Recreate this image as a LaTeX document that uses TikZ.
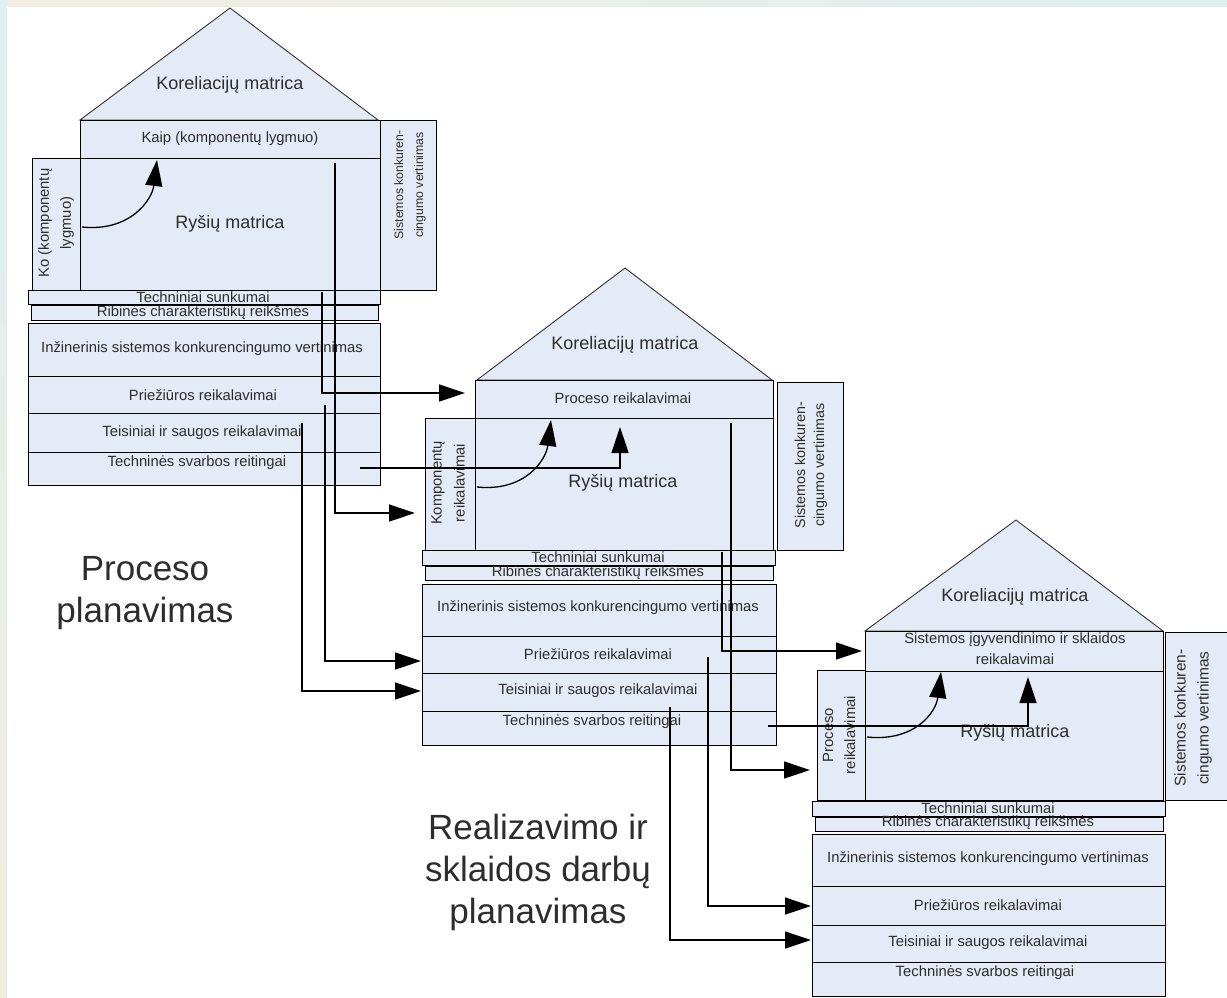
\documentclass[tikz,border=0pt]{standalone}
\usepackage{fontspec}
\setmainfont{Liberation Sans}
\usetikzlibrary{arrows.meta,calc}
\definecolor{boxfill}{RGB}{228,234,246}
\definecolor{bandtop}{RGB}{222,240,242}
\definecolor{bandleft}{RGB}{242,236,224}
\definecolor{labelgray}{RGB}{45,45,45}
\begin{document}
\begin{tikzpicture}[x=1pt,y=-1pt,
  box/.style={draw=black, fill=boxfill, line width=1.2pt, inner sep=0pt, anchor=north west},
  roof/.style={draw=black!80, fill=boxfill, line width=0.9pt, line join=miter},
  rowtxt/.style={font=\fontsize{14.8}{21}\selectfont, inner sep=0pt, text=labelgray},
  titletxt/.style={font=\fontsize{18}{22}\selectfont, inner sep=0pt, text=labelgray},
  sidetxt/.style={rotate=90, align=center, inner sep=0pt, text=labelgray},
  bigtxt/.style={font=\fontsize{35}{42}\selectfont, align=center, inner sep=0pt, text=labelgray},
  conn/.style={line width=1.3pt, -{Triangle[length=26pt,width=17pt]}},
  curvearrow/.style={line width=1.3pt, -{Triangle[length=26pt,width=17pt]}}
]
\useasboundingbox (0,0) rectangle (1227,998);
% faint slide background bands
\fill[left color=bandleft, right color=bandtop] (0,0) rectangle (1227,7);
\fill[top color=bandtop, bottom color=bandleft] (0,0) rectangle (7,998);

% ---------------- house 1 ----------------
\filldraw[roof] (80,120) -- (230,8) -- (378,120) -- cycle;
\node[titletxt] (h1corr) at (230,85) {Koreliacijų matrica};
\node[box, minimum width=56, minimum height=170] (h1side) at (380,120) {};
\node[sidetxt, font=\fontsize{12.3}{20}\selectfont] (h1sidet) at (410,185) {Sistemos konkuren-\\cingumo vertinimas};
\node[box, minimum width=48, minimum height=132] (h1left) at (32,158) {};
\node[sidetxt, font=\fontsize{14.8}{22}\selectfont] (h1leftt) at (56,223) {Ko (komponentų\\lygmuo)};
\node[box, minimum width=300, minimum height=38] (h1top) at (80,120) {};
\node[rowtxt] (h1topt) at (230,139) {Kaip (komponentų lygmuo)};
\node[box, minimum width=300, minimum height=132] (h1main) at (80,158) {};
\node[titletxt] (h1maint) at (230,224) {Ryšių matrica};
\node[box, minimum width=352, minimum height=14] (h1tech) at (28,290) {};
\node[rowtxt] (h1techt) at (203,297) {Techniniai sunkumai};
\node[box, minimum width=347, minimum height=15] (h1rib) at (31,305) {};
\node[rowtxt] (h1ribt) at (203,313) {Ribinės charakteristikų reikšmės};
\node[box, minimum width=352, minimum height=53] (h1eng) at (28,323) {};
\node[rowtxt] (h1engt) at (202,349) {Inžinerinis sistemos konkurencingumo vertinimas};
\node[box, minimum width=352, minimum height=37] (h1maint2) at (28,376) {};
\node[rowtxt] (h1mt) at (203,395) {Priežiūros reikalavimai};
\node[box, minimum width=352, minimum height=39] (h1legal) at (28,413) {};
\node[rowtxt] (h1legalt) at (202,433) {Teisiniai ir saugos reikalavimai};
\node[box, minimum width=352, minimum height=33] (h1rank) at (28,452) {};
\node[rowtxt] (h1rankt) at (197,463) {Techninės svarbos reitingai};

% ---------------- house 2 ----------------
\filldraw[roof] (477,380) -- (625,268) -- (772,380) -- cycle;
\node[titletxt] (h2corr) at (625,345) {Koreliacijų matrica};
\node[box, minimum width=66, minimum height=168] (h2side) at (777,382) {};
\node[sidetxt, font=\fontsize{14.3}{19}\selectfont] (h2sidet) at (811,465) {Sistemos konkuren-\\cingumo vertinimas};
\node[box, minimum width=50, minimum height=132] (h2left) at (425,418) {};
\node[sidetxt, font=\fontsize{14.8}{23}\selectfont] (h2leftt) at (448,483) {Komponentų\\reikalavimai};
\node[box, minimum width=298, minimum height=38] (h2top) at (475,380) {};
\node[rowtxt] (h2topt) at (623,398) {Proceso reikalavimai};
\node[box, minimum width=298, minimum height=132] (h2main) at (475,418) {};
\node[titletxt] (h2maint) at (623,483) {Ryšių matrica};
\node[box, minimum width=353, minimum height=15] (h2tech) at (422,550) {};
\node[rowtxt] (h2techt) at (598,557) {Techniniai sunkumai};
\node[box, minimum width=348, minimum height=14] (h2rib) at (425,566) {};
\node[rowtxt] (h2ribt) at (598,573) {Ribinės charakteristikų reikšmės};
\node[box, minimum width=354, minimum height=52] (h2eng) at (422,584) {};
\node[rowtxt] (h2engt) at (598,608) {Inžinerinis sistemos konkurencingumo vertinimas};
\node[box, minimum width=354, minimum height=37] (h2maint2) at (422,636) {};
\node[rowtxt] (h2mt) at (598,654) {Priežiūros reikalavimai};
\node[box, minimum width=354, minimum height=38] (h2legal) at (422,673) {};
\node[rowtxt] (h2legalt) at (598,691) {Teisiniai ir saugos reikalavimai};
\node[box, minimum width=354, minimum height=34] (h2rank) at (422,711) {};
\node[rowtxt] (h2rankt) at (592,722) {Techninės svarbos reitingai};

% ---------------- house 3 ----------------
\filldraw[roof] (865,631) -- (1016,520) -- (1163,631) -- cycle;
\node[titletxt] (h3corr) at (1015,597) {Koreliacijų matrica};
\node[box, minimum width=70, minimum height=168] (h3side) at (1165,632) {};
\node[sidetxt, font=\fontsize{15.5}{23}\selectfont] (h3sidet) at (1193,718) {Sistemos konkuren-\\cingumo vertinimas};
\node[box, minimum width=48, minimum height=130] (h3left) at (817,670) {};
\node[sidetxt, font=\fontsize{14.8}{22}\selectfont] (h3leftt) at (839,735) {Proceso\\reikalavimai};
\node[box, minimum width=298, minimum height=40] (h3top) at (865,631) {};
\node[rowtxt, align=center] (h3topt) at (1015,649) {Sistemos įgyvendinimo ir sklaidos\\reikalavimai};
\node[box, minimum width=298, minimum height=129] (h3main) at (865,671) {};
\node[titletxt] (h3maint) at (1015,733) {Ryšių matrica};
\node[box, minimum width=353, minimum height=15] (h3tech) at (812,801) {};
\node[rowtxt] (h3techt) at (988,808) {Techniniai sunkumai};
\node[box, minimum width=348, minimum height=14] (h3rib) at (815,817) {};
\node[rowtxt] (h3ribt) at (988,823) {Ribinės charakteristikų reikšmės};
\node[box, minimum width=353, minimum height=52] (h3eng) at (812,834) {};
\node[rowtxt] (h3engt) at (988,859) {Inžinerinis sistemos konkurencingumo vertinimas};
\node[box, minimum width=353, minimum height=39] (h3maint2) at (812,886) {};
\node[rowtxt] (h3mt) at (988,905) {Priežiūros reikalavimai};
\node[box, minimum width=353, minimum height=37] (h3legal) at (812,925) {};
\node[rowtxt] (h3legalt) at (988,943) {Teisiniai ir saugos reikalavimai};
\node[box, minimum width=353, minimum height=34] (h3rank) at (812,962) {};
\node[rowtxt] (h3rankt) at (985,973) {Techninės svarbos reitingai};

% ---------------- stage captions ----------------
\node[bigtxt] (cap1) at (145,593) {Proceso\\planavimas};
\node[bigtxt] (cap2) at (538,872) {Realizavimo ir\\sklaidos darbų\\planavimas};

% ---------------- links inside each house ----------------
\coordinate (k1s) at (82,227);  \coordinate (k1e) at (157,160);
\coordinate (k2s) at (477,487); \coordinate (k2e) at (551,420);
\coordinate (k3s) at (867,737); \coordinate (k3e) at (941,672);
\draw[curvearrow] (k1s) .. controls (130,232) and (152,200) .. (k1e);
\draw[curvearrow] (k2s) .. controls (525,492) and (546,460) .. (k2e);
\draw[curvearrow] (k3s) .. controls (915,742) and (936,712) .. (k3e);

% ---------------- links from house 1 to house 2 ----------------
\coordinate (a1s) at (335,163); \coordinate (a1e) at (415,513);
\coordinate (a2s) at (322,292); \coordinate (a2e) at (465,393);
\coordinate (a3s) at (325,405); \coordinate (a3e) at (421,661);
\coordinate (a4s) at (302,423); \coordinate (a4e) at (421,691);
\coordinate (a5s) at (360,468); \coordinate (a5e) at (620,427);
\draw[conn] (a1s) |- (a1e);
\draw[conn] (a2s) |- (a2e);
\draw[conn] (a3s) |- (a3e);
\draw[conn] (a4s) |- (a4e);
\draw[conn] (a5s) -| (a5e);

% ---------------- links from house 2 to house 3 ----------------
\coordinate (b1s) at (731,423); \coordinate (b1e) at (810,770);
\coordinate (b2s) at (722,552); \coordinate (b2e) at (862,651);
\coordinate (b3s) at (708,657); \coordinate (b3e) at (811,906);
\coordinate (b4s) at (670,707); \coordinate (b4e) at (811,940);
\coordinate (b5s) at (768,726); \coordinate (b5e) at (1028,677);
\draw[conn] (b1s) |- (b1e);
\draw[conn] (b2s) |- (b2e);
\draw[conn] (b3s) |- (b3e);
\draw[conn] (b4s) |- (b4e);
\draw[conn] (b5s) -| (b5e);
\end{tikzpicture}
\end{document}
